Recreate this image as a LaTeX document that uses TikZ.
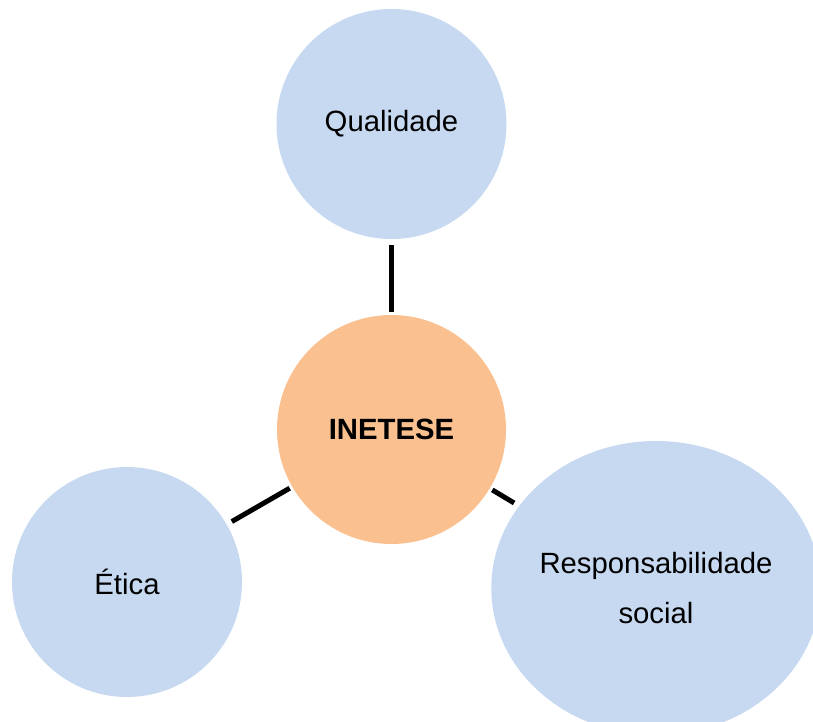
\documentclass[tikz,border=0pt]{standalone}
\usepackage{fontspec}
\setmainfont{Liberation Sans}
\usetikzlibrary{shapes.geometric}
\definecolor{bubbleblue}{RGB}{198,217,241}
\definecolor{coreorange}{RGB}{250,192,144}

\begin{document}
\begin{tikzpicture}[x=1bp,y=-1bp,font=\fontsize{29.3bp}{50bp}\selectfont]
\tikzset{
% Bubble styles: blue around, orange in the middle
outer node/.style={circle,fill=bubbleblue,minimum size=230bp,inner sep=0,outer sep=0},
core node/.style={circle,fill=coreorange,minimum size=229bp,inner sep=0,outer sep=0,font=\fontsize{29.3bp}{50bp}\selectfont\bfseries},
wide node/.style={ellipse,fill=bubbleblue,minimum width=328bp,minimum height=294bp,inner sep=0,outer sep=0,align=center},
link/.style={line width=5bp,black}
}
\useasboundingbox (0,0) rectangle (813,722);

% The bubbles
\node(0)[core node] at (391.5,429.5) {INETESE};
\node(1)[outer node] at (391.5,124) {Qualidade};
\node(2)[outer node] at (127,582) {Ética};
\node(3)[wide node] at (656,588) {Responsabilidade\\social};

% links, not touching the bubbles
\draw[link,shorten <=6bp,shorten >=3bp] (1) -- (0);
\draw[link,shorten <=3bp,shorten >=6bp] (0) -- (2);
\draw[link,shorten <=3bp,shorten >=6bp] (0) -- (3);
\end{tikzpicture}
\end{document}
